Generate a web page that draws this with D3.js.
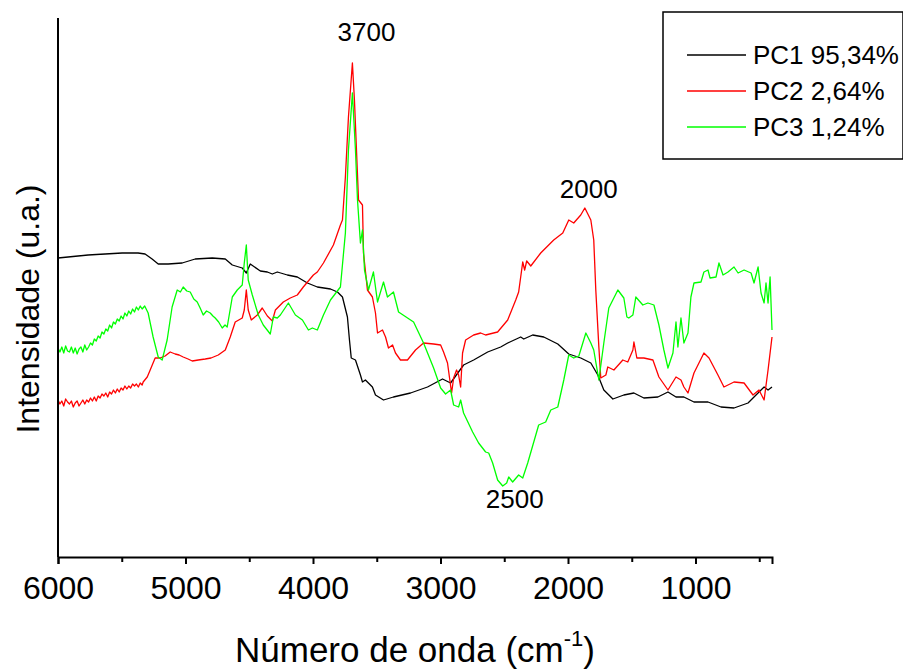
<!DOCTYPE html>
<html>
<head>
<meta charset="utf-8">
<script src="https://cdn.jsdelivr.net/npm/d3@7"></script>
<style>
  body { margin: 0; background: #fff; }
  svg { display: block; font-family: "Liberation Sans", Arial, sans-serif; }
</style>
</head>
<body>
<div id="chart"></div>
<script>
// wavenumber (cm-1), intensity (u.a.)
const pc1 = [[6000,299],[5764,302],[5497,304],[5372,304],[5317,303],[5262,298],[5214,293],[5136,293],[5026,294],[4924,298],[4790,299],[4688,298],[4633,292],[4555,289],[4523,284],[4492,293],[4413,286],[4358,285],[4319,283],[4280,285],[4201,282],[4123,280],[4044,274],[3966,270],[3863,268],[3808,265],[3769,260],[3730,240],[3714,217],[3700,199],[3667,197],[3628,182],[3612,175],[3589,177],[3534,170],[3510,162],[3447,157],[3369,160],[3235,164],[3102,170],[2984,178],[2921,174],[2819,192],[2740,197],[2630,205],[2528,210],[2473,214],[2371,220],[2347,218],[2277,222],[2190,220],[2080,213],[1994,203],[1900,199],[1821,194],[1766,182],[1719,167],[1648,158],[1562,162],[1483,164],[1405,159],[1295,160],[1216,165],[1153,160],[1091,160],[1012,155],[902,155],[800,150],[698,149],[588,154],[541,160],[462,170],[431,167],[400,170]]

const pc2 = [[6000,157],[5985,153],[5970,156],[5955,151],[5940,158],[5925,155],[5910,153],[5895,156],[5880,150],[5865,154],[5850,156],[5835,151],[5820,154],[5805,157],[5790,153],[5775,157],[5760,155],[5745,159],[5730,156],[5715,160],[5700,156],[5685,161],[5670,159],[5655,163],[5640,161],[5625,164],[5610,160],[5595,165],[5580,163],[5565,167],[5550,164],[5535,168],[5520,165],[5505,169],[5490,167],[5475,171],[5460,168],[5445,171],[5430,169],[5415,173],[5400,171],[5385,173],[5370,170],[5355,174],[5340,172],[5332,175],[5300,180],[5277,187],[5238,199],[5200,199],[5160,201],[5120,205],[5081,203],[5050,202],[5018,200],[4980,198],[4947,196],[4900,197],[4845,198],[4800,199],[4743,202],[4688,207],[4649,220],[4610,235],[4555,239],[4539,247],[4523,267],[4508,247],[4484,237],[4437,242],[4398,249],[4358,241],[4319,236],[4295,247],[4233,255],[4178,259],[4123,262],[4076,270],[3997,282],[3966,285],[3918,294],[3840,312],[3785,332],[3769,337],[3746,380],[3722,440],[3691,494],[3675,457],[3643,357],[3612,352],[3604,304],[3573,267],[3534,260],[3510,244],[3494,224],[3455,227],[3431,220],[3408,209],[3376,212],[3353,204],[3314,197],[3259,197],[3196,207],[3133,214],[3054,213],[2999,212],[2976,205],[2945,194],[2913,164],[2897,179],[2874,187],[2858,182],[2842,170],[2827,204],[2803,217],[2740,222],[2685,224],[2646,222],[2552,225],[2473,237],[2410,257],[2387,265],[2355,295],[2340,287],[2324,296],[2292,291],[2214,304],[2112,317],[2041,324],[1994,337],[1955,334],[1900,342],[1868,349],[1821,337],[1798,317],[1782,267],[1758,210],[1743,179],[1703,182],[1688,190],[1640,187],[1570,197],[1531,195],[1491,207],[1483,215],[1460,199],[1405,199],[1334,197],[1287,180],[1216,167],[1153,180],[1114,177],[1091,170],[1059,164],[1012,184],[934,204],[894,199],[824,182],[777,170],[698,175],[619,174],[549,162],[502,167],[462,157],[431,187],[400,220]]

const pc3 = [[6000,209],[5985,205],[5970,210],[5955,204],[5940,211],[5925,206],[5910,205],[5895,210],[5880,204],[5865,209],[5850,203],[5835,208],[5820,210],[5805,205],[5790,212],[5775,207],[5760,210],[5745,214],[5730,212],[5715,218],[5700,216],[5685,221],[5670,219],[5655,225],[5640,223],[5625,228],[5610,226],[5595,232],[5580,229],[5565,235],[5550,233],[5535,238],[5520,236],[5505,241],[5490,238],[5475,244],[5460,241],[5445,246],[5430,243],[5415,248],[5400,245],[5385,250],[5370,247],[5355,251],[5340,248],[5320,251],[5293,244],[5254,220],[5214,200],[5183,197],[5144,217],[5105,250],[5065,267],[5040,265],[5018,270],[4990,266],[4963,265],[4935,258],[4908,255],[4885,249],[4861,242],[4835,246],[4806,244],[4785,241],[4767,239],[4740,235],[4712,229],[4690,232],[4673,230],[4633,260],[4594,267],[4555,272],[4539,294],[4523,312],[4508,277],[4476,262],[4429,242],[4390,232],[4335,223],[4311,240],[4280,239],[4256,242],[4193,254],[4138,242],[4083,237],[4036,227],[4005,229],[3966,227],[3918,242],[3863,257],[3785,270],[3746,324],[3722,407],[3691,464],[3667,407],[3651,357],[3628,314],[3612,327],[3596,287],[3565,267],[3526,285],[3494,255],[3447,275],[3416,260],[3369,265],[3329,245],[3211,235],[3133,214],[3054,189],[2999,169],[2960,163],[2921,167],[2897,152],[2858,150],[2842,157],[2819,144],[2748,125],[2701,114],[2646,105],[2622,104],[2591,94],[2552,77],[2512,71],[2481,74],[2465,80],[2434,75],[2387,82],[2355,79],[2316,94],[2230,132],[2175,135],[2135,147],[2080,150],[2033,177],[1994,202],[1955,199],[1915,201],[1860,224],[1821,214],[1798,207],[1758,177],[1719,214],[1680,249],[1609,267],[1562,259],[1538,240],[1523,239],[1491,242],[1468,260],[1413,252],[1373,254],[1326,252],[1287,232],[1248,207],[1216,189],[1177,204],[1153,235],[1138,210],[1114,239],[1091,214],[1059,224],[1036,260],[1012,274],[957,275],[934,285],[902,287],[886,279],[839,280],[816,294],[784,282],[745,285],[698,290],[666,284],[619,287],[564,284],[541,274],[509,290],[486,264],[462,254],[447,274],[431,254],[415,280],[400,227]]

const seriesNames = ["PC1 95,34%", "PC2 2,64%", "PC3 1,24%"]
const seriesColors = ["#000000", "#ff0000", "#00ff00"]
const majorTicks = [6000, 5000, 4000, 3000, 2000, 1000]
const minorTicks = [5500, 4500, 3500, 2500, 1500, 500]
const peakLabels = [
  { text: "3700", w: 3581, v: 516 },
  { text: "2000", w: 1837, v: 359 },
  { text: "2500", w: 2418, v: 49 }
]

const W = 903, H = 672
const margin = { top: 18, right: 131, bottom: 115, left: 58 }
const width = W - margin.left - margin.right
const height = H - margin.top - margin.bottom

const svg = d3.select("#chart").append("svg")
  .attr("width", W)
  .attr("height", H)

const g = svg.append("g").attr("transform", `translate(${margin.left},${margin.top})`)

const x = d3.scaleLinear().domain([6000, 400]).range([0, width])
const y = d3.scaleLinear().domain([0, 539]).range([height, 0])

const line = d3.line()
  .x((d) => x(d[0]))
  .y((d) => y(d[1]))

;[pc1, pc2, pc3].forEach((data, i) => {
  g.append("path")
    .datum(data)
    .attr("fill", "none")
    .attr("stroke", seriesColors[i])
    .attr("stroke-width", 1.3)
    .attr("stroke-linejoin", "round")
    .attr("d", line)
})

// axes
const xAxis = g.append("g")
  .attr("transform", `translate(0,${height})`)
  .call(d3.axisBottom(x).tickValues(majorTicks).tickSize(7).tickPadding(12).tickFormat(d3.format("d")))
xAxis.select(".domain").attr("stroke-width", 2)
xAxis.selectAll(".tick line").attr("stroke-width", 2)
xAxis.selectAll("text").attr("font-size", 32).attr("font-family", "Liberation Sans, Arial, sans-serif").attr("fill", "#000")

const xMinor = g.append("g")
  .attr("transform", `translate(0,${height})`)
  .call(d3.axisBottom(x).tickValues(minorTicks).tickSize(5).tickFormat(""))
xMinor.select(".domain").remove()
xMinor.selectAll(".tick line").attr("stroke-width", 2)

g.append("line")
  .attr("x1", 0).attr("x2", 0)
  .attr("y1", 0).attr("y2", height)
  .attr("stroke", "#000")
  .attr("stroke-width", 2)

// axis titles
const xTitle = svg.append("text")
  .attr("x", 415)
  .attr("y", 662)
  .attr("text-anchor", "middle")
  .attr("font-size", 35)
xTitle.append("tspan").text("Número de onda (cm")
xTitle.append("tspan").attr("font-size", 22).attr("dy", -16).text("-1")
xTitle.append("tspan").attr("dy", 16).text(")")

svg.append("text")
  .attr("transform", `translate(39,309) rotate(-90)`)
  .attr("text-anchor", "middle")
  .attr("font-size", 32)
  .text("Intensidade (u.a.)")

// peak labels
g.selectAll(".peak")
  .data(peakLabels)
  .enter()
  .append("text")
  .attr("class", "peak")
  .attr("x", (d) => x(d.w))
  .attr("y", (d) => y(d.v))
  .attr("text-anchor", "middle")
  .attr("font-size", 26)
  .text((d) => d.text)

// legend
const legend = svg.append("g").attr("transform", "translate(663,12)")
legend.append("rect")
  .attr("width", 240)
  .attr("height", 147)
  .attr("fill", "#fff")
  .attr("stroke", "#000")
  .attr("stroke-width", 1.5)

seriesNames.forEach((name, i) => {
  const row = legend.append("g").attr("transform", `translate(0,${43 + i * 36})`)
  row.append("line")
    .attr("x1", 24).attr("x2", 83)
    .attr("stroke", seriesColors[i])
    .attr("stroke-width", 1.3)
  row.append("text")
    .attr("x", 90)
    .attr("y", 9)
    .attr("font-size", 26)
    .text(name)
})
</script>
</body>
</html>
